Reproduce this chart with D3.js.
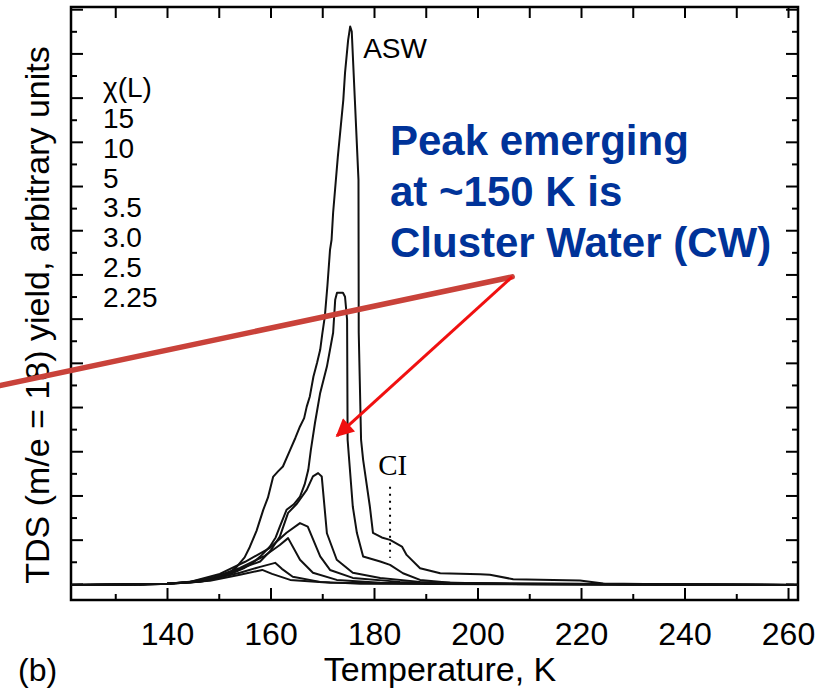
<!DOCTYPE html>
<html><head><meta charset="utf-8">
<script src="https://cdn.jsdelivr.net/npm/d3@7"></script>
<style>body{margin:0;background:#fff}</style>
</head><body><svg id="c" width="826" height="693"></svg>
<script>
const xMajorTicks=[140,160,180,200,220,240,260];
const xMinorTicks=[130,150,170,190,210,230,250];
const yMajorTicks=[0,2,4,6,8,10,12,14,16,18,20,22,24,26];
const yMinorTicks=[1,3,5,7,9,11,13,15,17,19,21,23,25];
const legendTitle="χ(L)";
const legendLabels=["15","10","5","3.5","3.0","2.5","2.25"];

const curve15=[[121.45,-0.05],[135,-0.04],[140,0.0],[144.4,0.06],[147,0.14],[150.2,0.30],[152.2,0.52],[153.5,0.78],[155,1.2],[156.0,1.67],[157.3,2.4],[158.6,3.35],[159.5,3.9],[160.5,4.84],[161.5,5.1],[162.4,5.31],[163.8,6.06],[164.8,6.6],[165.7,7.12],[166.5,7.5],[167.0,8.02],[167.6,8.48],[168.3,9.38],[169.0,10.0],[169.6,10.59],[170.0,11.3],[170.5,12.1],[171.0,13.5],[171.5,15.11],[171.8,15.57],[172.1,16.79],[173.0,19.3],[174.07,21.9],[174.4,23.12],[175.0,24.6],[175.4,25.22],[175.7,24.99],[176.3,21.9],[177.0,18.28],[177.05,11.36],[177.5,6.52],[177.9,5.61],[179.2,3.50],[179.8,2.31],[181.5,2.1],[183.1,1.99],[185.4,1.69],[186.3,1.31],[188.9,0.71],[192.8,0.48],[200.5,0.43],[202.4,0.41],[206.9,0.21],[219.8,0.15],[224.3,0.02],[240,-0.03],[261.9,-0.05]];
const curve10=[[121.45,-0.05],[135,-0.04],[140,0.0],[144.4,0.06],[147,0.12],[150.2,0.32],[152.8,0.5],[154.8,0.7],[156.6,0.95],[158.3,1.3],[159.9,1.69],[161.0,2.1],[161.8,2.59],[163.1,3.35],[164.5,3.6],[165.7,3.95],[166.6,4.5],[167.3,5.16],[167.8,6.06],[168.6,7.29],[169.6,8.64],[170.9,9.83],[172.1,11.36],[172.5,12.85],[172.85,13.17],[174.0,13.17],[174.4,12.99],[174.8,11.95],[174.9,6.52],[175.9,3.50],[176.7,2.3],[177.9,1.24],[181.2,1.01],[183.1,0.86],[185.6,0.48],[188.9,0.18],[194.7,0.05],[204.3,0.0],[230,-0.04],[261.9,-0.05]];
const curve5=[[121.45,-0.05],[140,0.0],[146.4,0.10],[150,0.3],[152.8,0.56],[155.5,0.8],[158.0,1.01],[160,1.5],[161.8,2.14],[163.4,3.21],[165,3.6],[167.0,4.25],[168.2,4.86],[169.2,5.01],[169.9,4.86],[170.9,2.29],[172.8,1.09],[175.9,0.50],[181.2,0.27],[188.9,0.09],[204.3,0.0],[261.9,-0.05]];
const curve35=[[121.45,-0.05],[140,0.0],[144.4,0.09],[150.2,0.45],[155.1,1.0],[159.9,1.63],[163.1,2.31],[165.7,2.75],[167.2,2.59],[169.6,1.24],[171.5,0.63],[175.9,0.27],[185.0,0.09],[194.7,0.0],[261.9,-0.05]];
const curve30=[[121.45,-0.05],[140,0.0],[144.4,0.09],[149.3,0.32],[154.1,0.72],[158.9,1.27],[161.8,1.76],[163.4,2.07],[165.7,1.09],[168.2,0.50],[172.8,0.18],[181.2,0.05],[261.9,-0.05]];
const curve25=[[121.45,-0.05],[140,0.0],[148.3,0.18],[154.1,0.50],[158.0,0.77],[160.9,0.95],[162.2,0.68],[164.3,0.32],[169.6,0.09],[177.3,0.0],[261.9,-0.05]];
const curve225=[[121.45,-0.05],[140,0.0],[148.3,0.14],[154.1,0.41],[158.4,0.63],[160.3,0.45],[163.8,0.18],[171.5,0.05],[261.9,-0.05]];
const curves=[curve15,curve10,curve5,curve35,curve30,curve25,curve225];

// annotations in data units
const redLine=[[107.7,8.97],[206.7,13.89]];
const arrowTip=[172.85,6.70];
const ciLine=[[183.1,4.39],[183.1,1.18]];
const ciLabelPos=[180.8,4.93];
const aswLabelPos=[177.9,23.8];
const blueText=["Peak emerging","at ~150 K is","Cluster Water (CW)"];

const svg=d3.select("#c");
const L=71,R=798,T=7,B=600;
const x=d3.scaleLinear().domain([121.45,261.93]).range([L,R]);
const y=d3.scaleLinear().domain([-0.73,26.1]).range([B,T]);

const font="'Liberation Sans', Arial, Helvetica, sans-serif";

function styleAxis(g){g.select(".domain").remove();g.selectAll(".tick line").attr("stroke","#000").attr("stroke-width",2);}

svg.append("g").attr("transform",`translate(0,${B})`).call(d3.axisBottom(x).tickValues(xMajorTicks).tickSizeInner(-12).tickSizeOuter(0).tickPadding(22).tickFormat(d3.format("d"))).call(styleAxis)
  .selectAll("text").attr("font-family",font).attr("font-size",32).attr("fill","#000");
svg.append("g").attr("transform",`translate(0,${B})`).call(d3.axisBottom(x).tickValues(xMinorTicks).tickSizeInner(-6).tickSizeOuter(0).tickFormat("")).call(styleAxis);
svg.append("g").attr("transform",`translate(0,${T})`).call(d3.axisTop(x).tickValues(xMajorTicks.concat(xMinorTicks)).tickSizeInner(-11).tickSizeOuter(0).tickFormat("")).call(styleAxis);
svg.append("g").attr("transform",`translate(${L},0)`).call(d3.axisLeft(y).tickValues(yMajorTicks).tickSizeInner(-12).tickSizeOuter(0).tickFormat("")).call(styleAxis);
svg.append("g").attr("transform",`translate(${L},0)`).call(d3.axisLeft(y).tickValues(yMinorTicks).tickSizeInner(-6).tickSizeOuter(0).tickFormat("")).call(styleAxis);
svg.append("g").attr("transform",`translate(${R},0)`).call(d3.axisRight(y).tickValues(yMajorTicks).tickSizeInner(-12).tickSizeOuter(0).tickFormat("")).call(styleAxis);
svg.append("g").attr("transform",`translate(${R},0)`).call(d3.axisRight(y).tickValues(yMinorTicks).tickSizeInner(-6).tickSizeOuter(0).tickFormat("")).call(styleAxis);

svg.append("rect").attr("x",L).attr("y",T).attr("width",R-L).attr("height",B-T).attr("fill","none").attr("stroke","#000").attr("stroke-width",2.5);

const line=d3.line().x(d=>x(d[0])).y(d=>y(d[1]));
svg.append("g").selectAll("path").data(curves).join("path")
  .attr("d",line).attr("fill","none").attr("stroke","#111").attr("stroke-width",2).attr("stroke-linejoin","round");

// CI dotted
svg.append("line").attr("x1",x(ciLine[0][0])).attr("y1",y(ciLine[0][1])).attr("x2",x(ciLine[1][0])).attr("y2",y(ciLine[1][1]))
  .attr("stroke","#000").attr("stroke-width",2).attr("stroke-dasharray","2,5");
svg.append("text").attr("x",x(ciLabelPos[0])).attr("y",y(ciLabelPos[1])).attr("font-family","'Liberation Serif','Times New Roman',serif").attr("font-size",29).text("CI");
svg.append("text").attr("x",x(aswLabelPos[0])).attr("y",y(aswLabelPos[1])).attr("font-family",font).attr("font-size",28).text("ASW");

// legend
const lg=svg.append("g").attr("font-family",font).attr("font-size",28).attr("fill","#000");
lg.append("text").attr("x",103).attr("y",97).text(legendTitle);
lg.selectAll("text.l").data(legendLabels).join("text").attr("class","l").attr("x",103).attr("y",(d,i)=>128+i*29.8).text(d=>d);

// axis titles
svg.append("text").attr("x",440).attr("y",681).attr("text-anchor","middle").attr("font-family",font).attr("font-size",34).text("Temperature, K");
svg.append("text").attr("x",18).attr("y",681).attr("font-family",font).attr("font-size",32).text("(b)");
svg.append("text").attr("transform","translate(49,315) rotate(-90)").attr("text-anchor","middle").attr("font-family",font).attr("font-size",34).text("TDS (m/e = 18) yield, arbitrary units");

// blue annotation
const bt=svg.append("g").attr("font-family",font).attr("font-size",42).attr("font-weight","bold").attr("fill","#003399");
bt.selectAll("text").data(blueText).join("text").attr("x",390).attr("y",(d,i)=>155+i*51).text(d=>d);

// red thick line
svg.append("line").attr("x1",x(redLine[0][0])).attr("y1",y(redLine[0][1])).attr("x2",x(redLine[1][0])).attr("y2",y(redLine[1][1]))
  .attr("stroke","#c9423a").attr("stroke-width",5.5).attr("stroke-linecap","round");
// red arrow
const defs=svg.append("defs");
defs.append("marker").attr("id","ah").attr("viewBox","0 0 10 10").attr("refX",9).attr("refY",5).attr("markerWidth",7).attr("markerHeight",6).attr("orient","auto").attr("markerUnits","strokeWidth")
  .append("path").attr("d","M0,0 L10,5 L0,10 z").attr("fill","#f01010");
svg.append("line").attr("x1",x(redLine[1][0])).attr("y1",y(redLine[1][1])).attr("x2",x(arrowTip[0])).attr("y2",y(arrowTip[1]))
  .attr("stroke","#f01010").attr("stroke-width",3).attr("marker-end","url(#ah)");
</script></body></html>
